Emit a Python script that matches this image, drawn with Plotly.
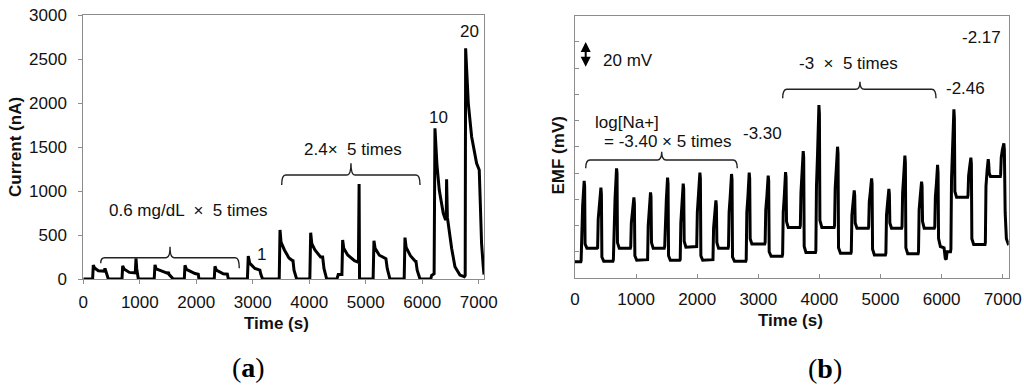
import plotly.graph_objects as go

# ---------------- Panel (a): amperometric current trace ----------------
cur_t = [0, 165, 177, 200, 266, 370, 384, 400, 443,
         685, 697, 720, 815, 920, 933, 945, 974,
         1255, 1269, 1290, 1446, 1495, 1505, 1520, 1593,
         1788, 1800, 1825, 1977, 2035, 2047,
         2318, 2331, 2355, 2478, 2550, 2567,
         2905, 2920, 2945, 3038, 3110, 3126, 3140, 3173,
         3468, 3482, 3500, 3560, 3640, 3700, 3710, 3730, 3776,
         4010, 4025, 4045, 4100, 4200, 4237, 4260, 4308,
         4490, 4513, 4578, 4591, 4610, 4680, 4800, 4870, 4876, 4882, 4890,
         5130, 5145, 5165, 5240, 5340, 5357, 5380, 5428,
         5680, 5694, 5715, 5790, 5880, 5889, 5910, 5960,
         6150, 6166, 6210, 6225, 6260, 6301, 6372, 6413, 6425, 6431, 6445,
         6490, 6520, 6579, 6667, 6744,
         6760, 6768, 6815, 6874, 6962, 7009, 7050, 7080, 7093]
cur_nA = [0, 0, 159, 125, 94, 90, 120, 80, 0,
          0, 150, 115, 75, 70, 235, 120, 0,
          0, 160, 115, 72, 65, 80, 50, 0,
          0, 155, 110, 62, 55, 0,
          0, 145, 100, 60, 55, 0,
          0, 261, 180, 120, 100, 100, 60, 0,
          0, 557, 420, 330, 240, 210, 220, 100, 0,
          0, 526, 400, 330, 250, 250, 120, 0,
          0, 50, 50, 443, 350, 273, 208, 190, 1080, 1080, 0,
          0, 435, 350, 270, 230, 230, 120, 0,
          0, 470, 360, 265, 200, 200, 100, 0,
          0, 40, 60, 1712, 1300, 1011, 746, 670, 700, 1133, 700,
          481, 349, 140, 45, 26,
          40, 2621, 1996, 1617, 1315, 1239, 405, 140, 50]

cur_ticks = [0, 500, 1000, 1500, 2000, 2500, 3000]
time_ticks = [0, 1000, 2000, 3000, 4000, 5000, 6000, 7000]

# ---------------- Panel (b): potentiometric EMF trace ----------------
emf_t = [0, 95,
         100, 110, 125, 150, 158, 165, 195, 360,
         370, 380, 400, 424, 432, 440, 470, 620,
         628, 638, 655, 680, 688, 695, 725, 905,
         912, 922, 940, 964, 972, 980, 1010, 1180,
         1188, 1198, 1215, 1236, 1244, 1252, 1280, 1460,
         1468, 1478, 1495, 1515, 1523, 1531, 1560, 1715,
         1722, 1732, 1750, 1771, 1779, 1787, 1815, 1985,
         1992, 2002, 2020, 2044, 2052, 2060, 2090, 2250,
         2258, 2268, 2285, 2306, 2314, 2322, 2350, 2505,
         2512, 2522, 2540, 2562, 2570, 2578, 2610, 2795,
         2802, 2812, 2830, 2851, 2859, 2867, 2895, 3105,
         3112, 3122, 3140, 3162, 3170, 3178, 3210, 3390,
         3398, 3408, 3425, 3446, 3454, 3462, 3490, 3680,
         3688, 3698, 3715, 3735, 3743, 3751, 3780, 3935,
         3942, 3952, 3970, 3992, 4000, 4008, 4040, 4240,
         4248, 4258, 4275, 4297, 4305, 4313, 4345, 4515,
         4522, 4532, 4550, 4570, 4578, 4586, 4615, 4800,
         4806, 4816, 4834, 4854, 4862, 4870, 4900, 5080,
         5088, 5098, 5115, 5137, 5145, 5153, 5180, 5345,
         5352, 5362, 5380, 5399, 5407, 5415, 5445, 5615,
         5622, 5632, 5650, 5672, 5680, 5688, 5715, 5880,
         5888, 5898, 5915, 5934, 5942, 5950, 5980, 6040, 6060, 6075, 6090, 6145,
         6152, 6162, 6180, 6201, 6209, 6217, 6245, 6425,
         6432, 6442, 6460, 6479, 6487, 6495, 6525, 6710,
         6716, 6726, 6745, 6763, 6771, 6779, 6800, 6960,
         6966, 6976, 6995, 7019, 7027, 7040, 7060, 7098]
emf_mv = [12.4, 12.4,
          13, 40, 55, 74, 70, 26, 22.6, 22.6,
          23, 45, 55, 69, 64, 16, 12.8, 12.8,
          14, 45, 60, 83.6, 80, 27, 22.6, 22.6,
          24, 42, 52, 61.5, 57, 17, 13.5, 13.5,
          14, 40, 52, 65.3, 62, 27, 22.6, 22.6,
          24, 48, 60, 76.5, 72, 17, 13.5, 13.5,
          14, 42, 55, 71.9, 68, 28, 23.5, 23.5,
          24, 50, 62, 80.3, 76, 17, 13.5, 13.5,
          14, 38, 48, 59.2, 55, 27, 22.6, 22.6,
          24, 50, 62, 79.3, 75, 16, 12.8, 12.8,
          14, 50, 62, 80.3, 76, 30, 26, 26,
          27, 52, 62, 78, 74, 20, 16.5, 16.5,
          18, 50, 62, 80.8, 77, 43, 38.5, 38.5,
          40, 65, 78, 96.8, 92, 24, 19.5, 19.5,
          21, 70, 95, 131.9, 125, 44, 38.5, 38.5,
          40, 68, 80, 100.1, 95, 23, 18.8, 18.8,
          20, 48, 57, 66.8, 63, 42, 37.9, 37.9,
          39, 58, 66, 76, 72, 22, 17.5, 17.5,
          19, 48, 57, 67.9, 64, 42, 37.9, 37.9,
          39, 65, 78, 93.3, 88, 23, 18.5, 18.5,
          20, 52, 62, 73.5, 70, 43, 38, 38,
          39, 62, 72, 86.2, 80, 30, 24, 23, 15, 14, 20, 20,
          22, 75, 100, 128.6, 122, 66, 61.5, 61.5,
          63, 78, 85, 91.8, 87, 30, 25.5, 25.5,
          27, 70, 82, 90.7, 87, 80, 77.3, 77.3,
          79, 92, 98, 102.7, 98, 50, 30, 25]

emf_ticks = [20, 40, 60, 80, 100, 120, 140, 160, 180]

# braces: (x_left, x_right, y_bar, y_end_left, y_end_right, x_tip, y_tip)
brace_a1 = (308, 2761, 242, 178, 122, 1535, 367)
brace_a2 = (3512, 5960, 1182, 1068, 1068, 4738, 1315)
brace_b1 = (175, 2656, 90.0, 83.6, 83.6, 1419, 96.3)
brace_b2 = (3399, 5908, 143.9, 137.0, 137.0, 4664, 149.7)

FONT = "Liberation Sans, Arial, sans-serif"
GREY = "#8c8c8c"

fig = go.Figure()
fig.add_trace(go.Scatter(x=cur_t, y=cur_nA, mode="lines",
                         line=dict(color="black", width=3),
                         xaxis="x", yaxis="y", hoverinfo="skip", showlegend=False))
fig.add_trace(go.Scatter(x=emf_t, y=emf_mv, mode="lines",
                         line=dict(color="black", width=3),
                         xaxis="x2", yaxis="y2", hoverinfo="skip", showlegend=False))


def brace_path(b, rx):
    x0, x1, yb, yl, yr, xc, yt = b
    return (f"M {x0},{yl} Q {x0},{yb} {x0 + rx},{yb} "
            f"L {xc - rx},{yb} Q {xc},{yb} {xc},{yt} "
            f"Q {xc},{yb} {xc + rx},{yb} "
            f"L {x1 - rx},{yb} Q {x1},{yb} {x1},{yr}")


shapes = []
for b, xr, yr in [(brace_a1, "x", "y"), (brace_a2, "x", "y"),
                  (brace_b1, "x2", "y2"), (brace_b2, "x2", "y2")]:
    shapes.append(dict(type="path", path=brace_path(b, 70), xref=xr, yref=yr,
                       line=dict(color="#222", width=1.4)))

ann_font = dict(family=FONT, size=17, color="#111")
title_font = dict(family=FONT, size=17, color="#111")
serif_font = dict(family="Liberation Serif, Times New Roman, serif", size=28, color="black")


def paper_ann(px, py, text, font, angle=0):
    return dict(x=px / 1024, y=1 - py / 387, xref="paper", yref="paper", text=text,
                textangle=angle, showarrow=False, xanchor="center", yanchor="middle", font=font)


annotations = [
    dict(x=6828, y=2807, xref="x", yref="y", text="20", showarrow=False, font=ann_font),
    dict(x=6284, y=1837, xref="x", yref="y", text="10", showarrow=False, font=ann_font),
    dict(x=3158, y=284, xref="x", yref="y", text="1", showarrow=False, font=ann_font),
    dict(x=4779, y=1477, xref="x", yref="y", text="2.4×  5 times", showarrow=False, font=ann_font),
    dict(x=1858, y=776, xref="x", yref="y", text="0.6 mg/dL  ×  5 times", showarrow=False, font=ann_font),
    dict(x=6656, y=183, xref="x2", yref="y2", text="-2.17", showarrow=False, font=ann_font),
    dict(x=425, y=166, xref="x2", yref="y2", text="20 mV", showarrow=False, xanchor="left", font=ann_font),
    dict(x=4484, y=163.7, xref="x2", yref="y2", text="-3  ×  5 times", showarrow=False, font=ann_font),
    dict(x=6383, y=144.6, xref="x2", yref="y2", text="-2.46", showarrow=False, font=ann_font),
    dict(x=3066, y=110.3, xref="x2", yref="y2", text="-3.30", showarrow=False, font=ann_font),
    dict(x=289, y=118.7, xref="x2", yref="y2", text="log[Na+]", showarrow=False, xanchor="left", font=ann_font),
    dict(x=437, y=103.9, xref="x2", yref="y2", text="= -3.40 × 5 times", showarrow=False, xanchor="left", font=ann_font),
    # double-headed 20 mV scale arrow
    dict(x=175, y=180, ax=175, ay=160, xref="x2", yref="y2", axref="x2", ayref="y2",
         text="", showarrow=True, arrowhead=2, arrowside="end+start", arrowsize=1,
         arrowwidth=2, arrowcolor="black"),
    paper_ann(15.5, 147.5, "<b>Current (nA)</b>", title_font, -90),
    paper_ann(557.5, 156, "<b>EMF (mV)</b>", title_font, -90),
    paper_ann(276.7, 323, "<b>Time (s)</b>", title_font),
    paper_ann(790, 320, "<b>Time (s)</b>", title_font),
    paper_ann(248, 367, "(<b>a</b>)", serif_font),
    paper_ann(825, 368, "(<b>b</b>)", serif_font),
]

tickfont = dict(family=FONT, size=17, color="#111")
common = dict(showgrid=False, zeroline=False, showline=True, linecolor=GREY, linewidth=1,
              mirror=True, tickcolor=GREY, ticklen=4, tickwidth=1, tickfont=tickfont,
              automargin=False)

fig.update_layout(
    template="none",
    width=1024, height=387, margin=dict(l=0, r=0, t=0, b=0, pad=0), autosize=False,
    paper_bgcolor="white", plot_bgcolor="white", showlegend=False,
    xaxis=dict(domain=[83.3 / 1024, 484 / 1024], range=[0, 7093], tickvals=time_ticks,
               ticks="outside", anchor="y", ticklabelstandoff=4, **common),
    yaxis=dict(domain=[1 - 279 / 387, 1 - 15 / 387], range=[0, 3000], tickvals=cur_ticks,
               ticks="outside", anchor="x", ticklabelstandoff=8, **common),
    xaxis2=dict(domain=[575 / 1024, 1008.7 / 1024], range=[0, 7098], tickvals=time_ticks,
                ticks="inside", anchor="y2", ticklabelstandoff=6, **common),
    yaxis2=dict(domain=[1 - 278 / 387, 1 - 15.7 / 387], range=[0, 200], tickvals=emf_ticks,
                ticks="inside", showticklabels=False, anchor="x2", **common),
    shapes=shapes, annotations=annotations,
)

fig.write_html("out.html", config={"displayModeBar": False},
               post_script="document.body.style.margin='0';document.body.style.overflow='hidden';")
